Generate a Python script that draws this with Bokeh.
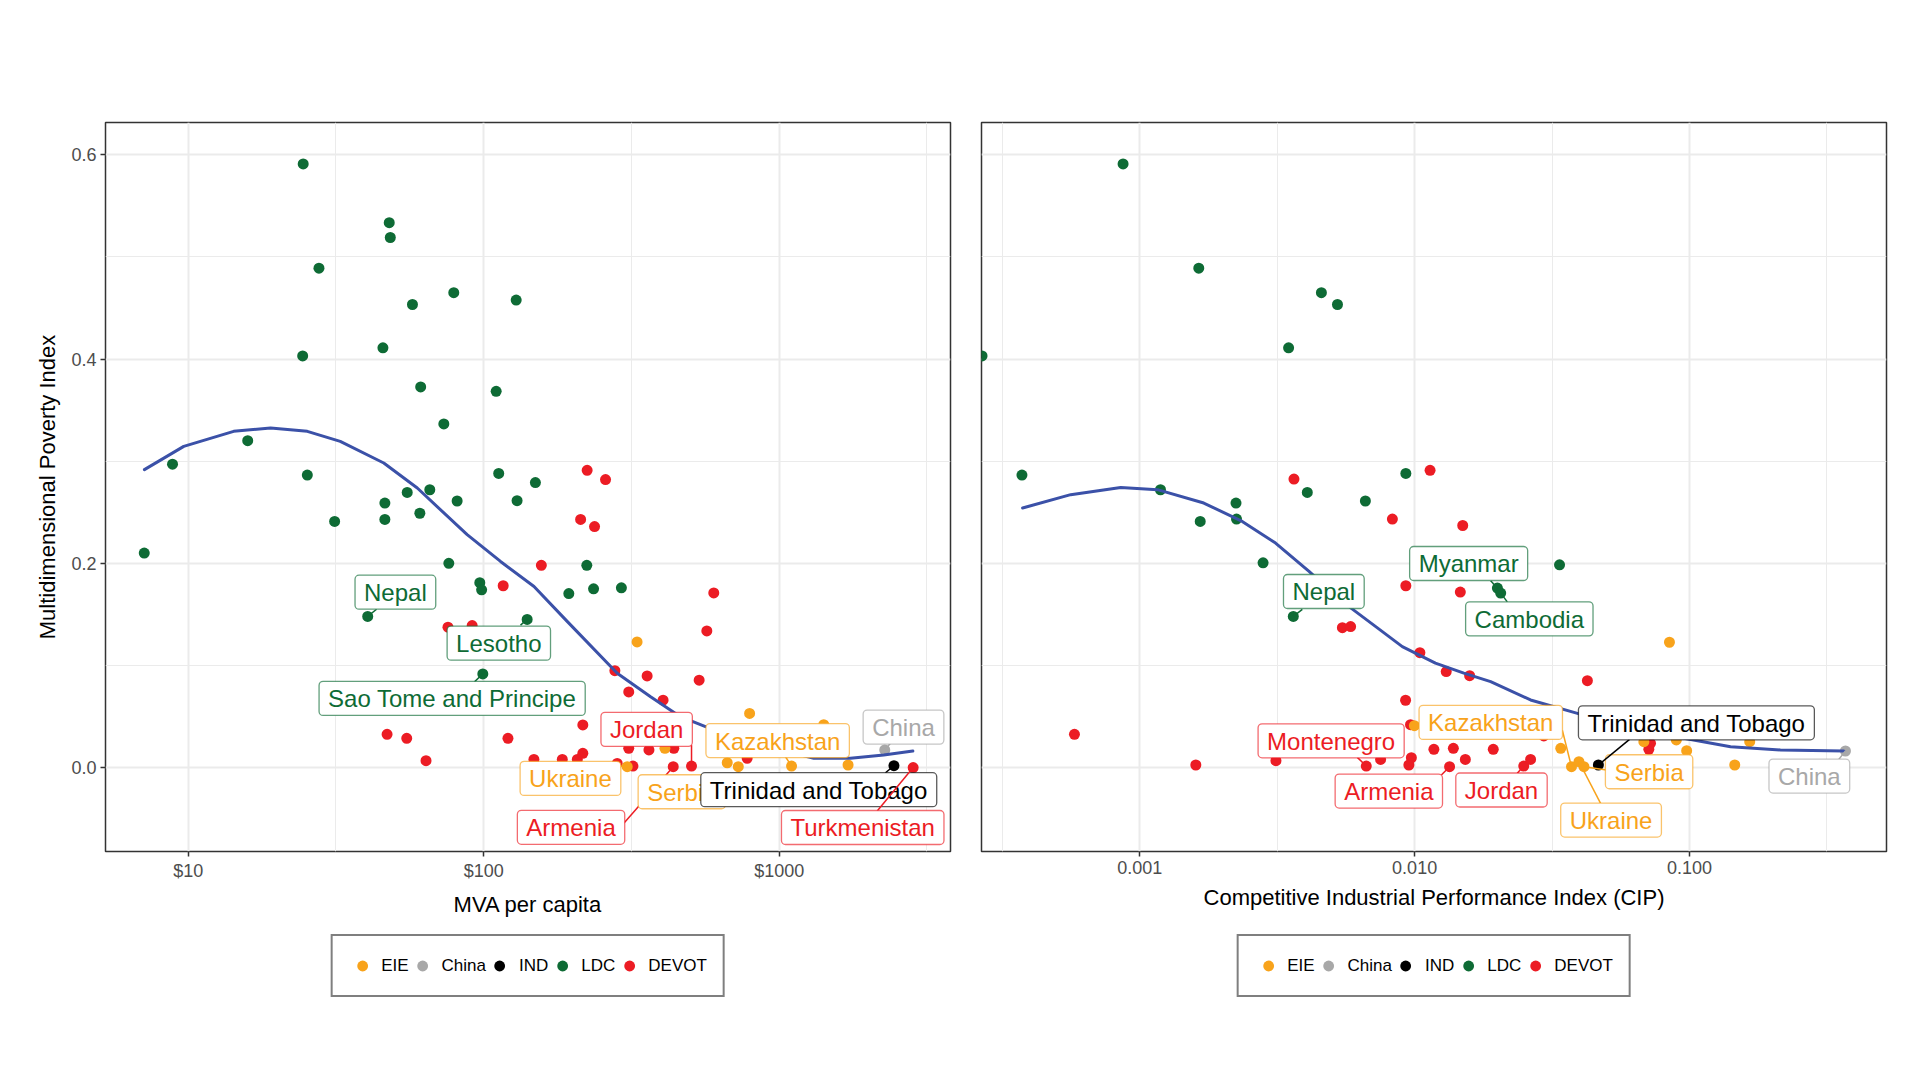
from bokeh.plotting import figure
from bokeh.models import (Range1d, FixedTicker, PrintfTickFormatter, Legend, LegendItem,
                          Label, Arrow)
from bokeh.layouts import row, column
from bokeh.embed import file_html
from bokeh.resources import INLINE

FONT = "Liberation Sans"
GROUPS = ["EIE", "China", "IND", "LDC", "DEVOT"]
GROUP_COLORS = ["#F8A31B", "#A8A8A8", "#000000", "#0E6B35", "#EC1C24"]
COLOR_OF = dict(zip(GROUPS, GROUP_COLORS))
SMOOTH_COLOR = "#3B51A8"

Y_LO, Y_HI = -0.0822, 0.6316
Y_TICKS = [0.0, 0.2, 0.4, 0.6]
Y_MINOR = [0.1, 0.3, 0.5]

# ---------------- Left panel: MVA per capita ----------------
mva_ticks = [10, 100, 1000]
mva_minor = [3.162, 31.62, 316.2, 3162.3]

mva_ldc = [24.5, 47.9, 48.3, 27.7, 57.4, 79.2, 128.8, 45.6, 24.4, 61.2,
           110.2, 73.3, 15.9, 8.85, 25.3, 112.4, 55.1, 65.7, 81.3, 129.7,
           46.3, 31.3, 46.3, 60.8, 7.1, 76.2, 97.0, 98.4, 40.5, 99.3,
           140.3, 149.6, 223.3, 194.1, 235.4, 292.4]
mpi_mva_ldc = [0.591, 0.5335, 0.519, 0.489, 0.4534, 0.465, 0.4577, 0.411, 0.403, 0.3727,
               0.3684, 0.3365, 0.320, 0.297, 0.2864, 0.288, 0.2694, 0.272, 0.261, 0.2613,
               0.259, 0.241, 0.243, 0.249, 0.21, 0.200, 0.181, 0.174, 0.148, 0.0917,
               0.145, 0.279, 0.198, 0.1704, 0.175, 0.176]

mva_devot = [116.4, 75.7, 91.4, 47.1, 54.9, 63.8, 120.8, 223.9, 258.4, 212.8,
             237.2, 156.7, 600.6, 569.0, 277.9, 357.3, 535.9, 309.6, 404.6, 216.5,
             147.9, 184.5, 207.4, 216.5, 283.0, 319.9, 309.6, 362.4, 440.0, 437.9,
             505.0, 779.0, 2840.0]
mpi_mva_devot = [0.178, 0.1374, 0.139, 0.0325, 0.0286, 0.0067, 0.0286, 0.291, 0.282, 0.243,
                 0.236, 0.198, 0.171, 0.1338, 0.0949, 0.0897, 0.0855, 0.074, 0.066, 0.0417,
                 0.008, 0.008, 0.008, 0.0139, 0.004, 0.0015, 0.0188, 0.0172, 0.0188, 0.0008,
                 0.0015, 0.009, 0.0]

mva_eie = [330.4, 794.0, 1415.0, 306.0, 410.5, 667.0, 727.0, 1101.0, 1710.0]
mpi_mva_eie = [0.123, 0.053, 0.042, 0.0008, 0.0188, 0.0047, 0.0008, 0.0015, 0.0025]

mva_china = [2276.0]
mpi_mva_china = [0.0172]
mva_ind = [2445.0]
mpi_mva_ind = [0.0018]

smooth_mva_x = [7.11, 9.66, 14.25, 19.0, 25.3, 32.7, 45.9, 59.6, 87.9, 114, 148, 192,
                283, 367, 463, 563, 865, 1310, 1742, 2258, 2833]
smooth_mva_y = [0.2917, 0.3145, 0.3292, 0.3325, 0.3292, 0.3194, 0.2982, 0.2737, 0.228,
                0.2018, 0.1773, 0.1429, 0.0924, 0.0694, 0.0498, 0.040, 0.022, 0.009,
                0.009, 0.0123, 0.0162]

mva_lab_names = ["Nepal", "Lesotho", "Sao Tome and Principe", "Jordan", "Kazakhstan",
                 "China", "Ukraine", "Armenia", "Serbia", "Trinidad and Tobago", "Turkmenistan"]
mva_lab_groups = ["LDC", "LDC", "LDC", "DEVOT", "EIE", "China", "EIE", "DEVOT", "EIE", "IND", "DEVOT"]
mva_lab_x = [50.25, 112.5, 78.2, 356, 988, 2634, 196.6, 197.5, 468.2, 1361, 1917]
mva_lab_y = [0.1717, 0.1218, 0.0677, 0.0374, 0.0264, 0.0396, -0.0106, -0.0585, -0.0237, -0.0217, -0.0587]
mva_seg_x = [43.4, 133.2, 93.1, 505, 1050, 2380, 287.9, 298, None, 2289, 2146]
mva_seg_y = [0.155, 0.1394, 0.084, 0.022, 0.0106, 0.0237, 0.0015, -0.0546, None, -0.0051, -0.0426]
mva_pt_x = [40.5, 140.3, 99.3, 505, 1101, 2276, 306, 437.9, 727, 2445, 2840]
mva_pt_y = [0.148, 0.145, 0.0917, 0.0015, 0.0015, 0.0172, 0.0008, 0.0008, 0.0008, 0.0018, 0.0]

# ---------------- Right panel: CIP index ----------------
cip_ticks = [0.001, 0.01, 0.1]
cip_minor = [0.000316, 0.00316, 0.0316, 0.316]

cip_ldc = [0.000870, 0.00164, 0.00458, 0.00524, 0.00348, 0.000267, 0.000373, 0.00929, 0.00119, 0.00407,
           0.00662, 0.00224, 0.00166, 0.00225, 0.00281, 0.00362, 0.03366, 0.0200, 0.02056]
mpi_cip_ldc = [0.591, 0.489, 0.465, 0.4534, 0.411, 0.403, 0.2864, 0.288, 0.272, 0.2694,
               0.261, 0.259, 0.241, 0.2433, 0.2005, 0.148, 0.1985, 0.1757, 0.1708]

cip_devot = [0.00364, 0.01138, 0.0083, 0.01496, 0.00929, 0.00546, 0.00585, 0.01045, 0.000579, 0.00160,
             0.00313, 0.00667, 0.00752, 0.00927, 0.00966, 0.00973, 0.00953, 0.01175, 0.01466, 0.0425,
             0.01303, 0.01585, 0.0295, 0.01383, 0.01529, 0.01340, 0.01932, 0.02494, 0.02641, 0.0721,
             0.0711]
mpi_cip_devot = [0.2825, 0.291, 0.2433, 0.237, 0.178, 0.137, 0.138, 0.1125, 0.0325, 0.0025,
                 0.0067, 0.0015, 0.008, 0.0659, 0.042, 0.0096, 0.0025, 0.0178, 0.1718, 0.0851,
                 0.094, 0.090, 0.031, 0.0188, 0.008, 0.0008, 0.0178, 0.0015, 0.008, 0.0237,
                 0.0178]

cip_eie = [0.00998, 0.0845, 0.034, 0.0372, 0.0396, 0.0413, 0.0682, 0.0895, 0.0976, 0.1655, 0.146]
mpi_cip_eie = [0.041, 0.1227, 0.0188, 0.0008, 0.0057, 0.0008, 0.0253, 0.027, 0.0165, 0.0253, 0.0025]

cip_china = [0.369]
mpi_cip_china = [0.0162]
cip_ind = [0.0466]
mpi_cip_ind = [0.0025]

smooth_cip_x = [0.000375, 0.000561, 0.000853, 0.00116, 0.00171, 0.00236, 0.00312, 0.00413,
                0.00546, 0.00722, 0.00902, 0.0119, 0.0151, 0.0189, 0.0264, 0.0391, 0.061,
                0.0953, 0.141, 0.214, 0.364]
smooth_cip_y = [0.2541, 0.2672, 0.2743, 0.2721, 0.2590, 0.2410, 0.2198, 0.1920, 0.1625,
                0.1380, 0.1184, 0.1022, 0.0924, 0.0841, 0.0662, 0.0531, 0.0387, 0.0286,
                0.0204, 0.0172, 0.0162]

cip_lab_names = ["Nepal", "Myanmar", "Cambodia", "Montenegro", "Armenia", "Kazakhstan",
                 "Jordan", "Ukraine", "Serbia", "Trinidad and Tobago", "China"]
cip_lab_groups = ["LDC", "LDC", "LDC", "DEVOT", "DEVOT", "EIE", "DEVOT", "EIE", "EIE", "IND", "China"]
cip_lab_x = [0.004675, 0.01572, 0.02613, 0.004969, 0.008056, 0.01892, 0.0207, 0.05182, 0.07125, 0.1059, 0.2727]
cip_lab_y = [0.1724, 0.1998, 0.1456, 0.0262, -0.0230, 0.0442, -0.022, -0.0514, -0.0041, 0.0438, -0.0083]
cip_seg_x = [0.003904, 0.01890, 0.02173, 0.006187, 0.01251, 0.03445, 0.02362, 0.04747, 0.04991, 0.06050, 0.349]
cip_seg_y = [0.1548, 0.1828, 0.1622, 0.0100, -0.0073, 0.0367, -0.0057, -0.035, -0.0024, 0.0276, 0.008]
cip_pt_x = [0.00362, 0.0200, 0.02056, 0.00667, 0.01340, 0.0372, 0.02494, 0.0396, 0.0413, 0.0466, 0.369]
cip_pt_y = [0.148, 0.1757, 0.1708, 0.0015, 0.0008, 0.0008, 0.0015, 0.0057, 0.0008, 0.0025, 0.0162]

# legend swatch renderers get one off-screen key point each (never visible)
legend_key_x = [5.0]
legend_key_y = [5.0]


def style_axis(ax, ticks, minor, fmt, title):
    ax.ticker = FixedTicker(ticks=ticks, minor_ticks=minor)
    ax.formatter = PrintfTickFormatter(format=fmt)
    ax.axis_label = title
    ax.axis_label_text_font = FONT
    ax.axis_label_text_font_size = "22px"
    ax.axis_label_text_font_style = "normal"
    ax.axis_label_text_color = "#000000"
    ax.axis_label_standoff = 8
    ax.major_label_text_font = FONT
    ax.major_label_text_font_size = "18px"
    ax.major_label_text_color = "#4D4D4D"
    ax.major_label_standoff = 4
    ax.axis_line_color = None
    ax.major_tick_line_color = "#333333"
    ax.major_tick_line_width = 1.5
    ax.major_tick_out = 5
    ax.major_tick_in = 0
    ax.minor_tick_line_color = None


def make_panel(width, b_left, b_right, x_lo, x_hi, x_ticks, x_minor, x_fmt, x_title,
               show_y, series, sx, sy, labels):
    p = figure(width=width, height=930, x_axis_type="log",
               x_range=Range1d(x_lo, x_hi), y_range=Range1d(Y_LO, Y_HI),
               y_axis_location="left" if show_y else None,
               output_backend="svg", toolbar_location=None,
               min_border_left=b_left, min_border_right=b_right,
               min_border_top=122, min_border_bottom=79)
    p.background_fill_color = "white"
    p.border_fill_color = "white"
    p.outline_line_color = "#333333"
    p.outline_line_width = 1.5

    style_axis(p.xaxis[0], x_ticks, x_minor, x_fmt, x_title)
    if show_y:
        style_axis(p.yaxis[0], Y_TICKS, Y_MINOR, "%.1f", "Multidimensional Poverty Index")
    p.ygrid[0].ticker = FixedTicker(ticks=Y_TICKS, minor_ticks=Y_MINOR)
    for g in (p.xgrid[0], p.ygrid[0]):
        g.grid_line_color = "#EBEBEB"
        g.grid_line_width = 2
        g.minor_grid_line_color = "#EBEBEB"
        g.minor_grid_line_width = 1

    for grp in ["LDC", "DEVOT", "EIE", "China", "IND"]:
        xs, ys = series[grp]
        p.scatter(xs, ys, size=11, fill_color=COLOR_OF[grp], line_color=None)

    p.line(sx, sy, line_width=3, line_color=SMOOTH_COLOR, line_join="round", line_cap="round")

    names, groups, lx, ly, segx, segy, ptx, pty = labels
    for i in range(len(names)):
        c = COLOR_OF[groups[i]]
        if segx[i] is not None:
            p.add_layout(Arrow(end=None, x_start=segx[i], y_start=segy[i],
                               x_end=ptx[i], y_end=pty[i],
                               line_color=c, line_width=1.5))
        p.add_layout(Label(x=lx[i], y=ly[i], text=names[i],
                           text_align="center", text_baseline="middle",
                           text_font=FONT, text_font_size="24px", text_color=c,
                           background_fill_color="white", background_fill_alpha=1.0,
                           border_line_color=c, border_line_alpha=0.65, border_line_width=1.3,
                           padding=dict(left=9, right=9, top=4, bottom=3),
                           border_radius=4))
    return p


def make_legend_fig(width, b_left, b_right):
    f = figure(width=width, height=150, x_range=Range1d(0, 1), y_range=Range1d(0, 1),
               x_axis_location=None, y_axis_location=None,
               output_backend="svg", toolbar_location=None,
               min_border_left=b_left, min_border_right=b_right,
               min_border_top=0, min_border_bottom=0)
    f.outline_line_color = None
    f.background_fill_color = "white"
    f.border_fill_color = "white"
    f.xgrid.visible = False
    f.ygrid.visible = False
    items = []
    for g in GROUPS:
        r = f.scatter(x=legend_key_x, y=legend_key_y, size=11,
                      fill_color=COLOR_OF[g], line_color=None)
        items.append(LegendItem(label=g, renderers=[r]))
    legend = Legend(items=items, orientation="horizontal", location="top_center",
                    border_line_color="black", border_line_width=2,
                    background_fill_color="white",
                    label_text_font=FONT, label_text_font_size="17px",
                    label_text_color="#000000",
                    glyph_width=27, glyph_height=27, label_standoff=6,
                    spacing=0, padding=16, margin=4)
    f.add_layout(legend, "center")
    return f


p1 = make_panel(965, 105, 15, 5.25, 3799, mva_ticks, mva_minor, "$%d", "MVA per capita", True,
                {"LDC": (mva_ldc, mpi_mva_ldc), "DEVOT": (mva_devot, mpi_mva_devot),
                 "EIE": (mva_eie, mpi_mva_eie), "China": (mva_china, mpi_mva_china),
                 "IND": (mva_ind, mpi_mva_ind)},
                smooth_mva_x, smooth_mva_y,
                (mva_lab_names, mva_lab_groups, mva_lab_x, mva_lab_y,
                 mva_seg_x, mva_seg_y, mva_pt_x, mva_pt_y))

p2 = make_panel(955, 16, 34, 0.0002658, 0.5204, cip_ticks, cip_minor, "%.3f",
                "Competitive Industrial Performance Index (CIP)", False,
                {"LDC": (cip_ldc, mpi_cip_ldc), "DEVOT": (cip_devot, mpi_cip_devot),
                 "EIE": (cip_eie, mpi_cip_eie), "China": (cip_china, mpi_cip_china),
                 "IND": (cip_ind, mpi_cip_ind)},
                smooth_cip_x, smooth_cip_y,
                (cip_lab_names, cip_lab_groups, cip_lab_x, cip_lab_y,
                 cip_seg_x, cip_seg_y, cip_pt_x, cip_pt_y))

l1 = make_legend_fig(965, 105, 15)
l2 = make_legend_fig(955, 16, 34)

layout = row(column(p1, l1), column(p2, l2))
open("out.html", "w").write(file_html(layout, INLINE))
